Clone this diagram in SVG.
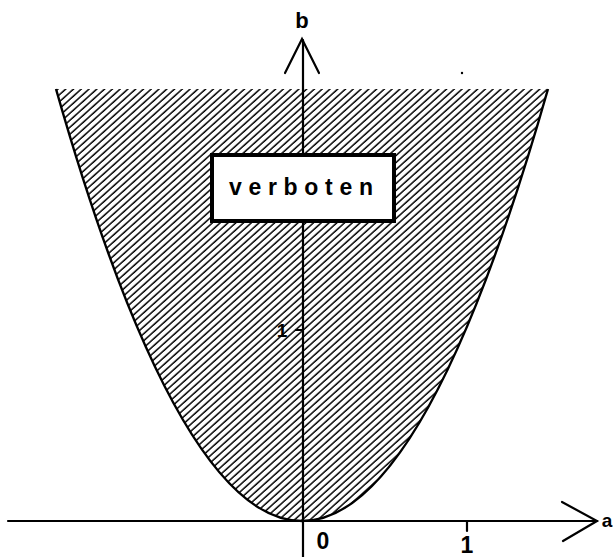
<svg xmlns="http://www.w3.org/2000/svg" width="613" height="557" viewBox="0 0 613 557">
  <style>
    .lbl { font-family: "Liberation Sans", Arial, sans-serif; font-weight: bold; fill: #000; }
    .ax { stroke: #000; stroke-width: 2.2; fill: none; stroke-linecap: round; stroke-linejoin: miter; }
  </style>
  <defs>
    <pattern id="hatch" patternUnits="userSpaceOnUse" width="5.2" height="6" patternTransform="rotate(48)">
      <line x1="1" y1="-1" x2="1" y2="7" stroke="#000" stroke-width="1.5"/>
    </pattern>
  </defs>
  <rect width="613" height="557" fill="#fff"/>

  <g id="region">
    <path d="M56,89 Q302,953 548,89 Z" fill="url(#hatch)" stroke="none"/>
    <path d="M56,89 Q302,953 548,89" fill="none" stroke="#000" stroke-width="2.4"/>
  </g>

  <g id="connectors">
    <g id="b-axis">
      <line class="ax" x1="303" y1="40" x2="303" y2="557"/>
      <polyline class="ax" points="285,73 302,39 319,73" stroke-width="2.8"/>
      <line class="ax" x1="296" y1="330" x2="303" y2="330"/>
    </g>
    <g id="a-axis">
      <line class="ax" x1="8" y1="521" x2="597" y2="521"/>
      <polyline class="ax" points="562,502 597,521 563,541" stroke-width="2.8"/>
      <line class="ax" x1="467" y1="521" x2="467" y2="531"/>
    </g>
  </g>

  <g id="box">
    <rect x="212" y="155" width="182" height="66" fill="#fff" stroke="#000" stroke-width="4"/>
    <text class="lbl" x="229" y="195" font-size="23" textLength="144" lengthAdjust="spacing">verboten</text>
  </g>

  <g id="labels">
    <text class="lbl" x="302" y="28" font-size="22" text-anchor="middle">b</text>
    <text class="lbl" x="607" y="527" font-size="19" text-anchor="middle">a</text>
    <text class="lbl" x="323" y="549" font-size="23" text-anchor="middle">0</text>
    <text class="lbl" x="467" y="553" font-size="23" text-anchor="middle">1</text>
    <text class="lbl" x="282" y="337" font-size="19" text-anchor="middle">1</text>
  </g>

  <circle cx="462" cy="73" r="1.2" fill="#000"/>
</svg>
